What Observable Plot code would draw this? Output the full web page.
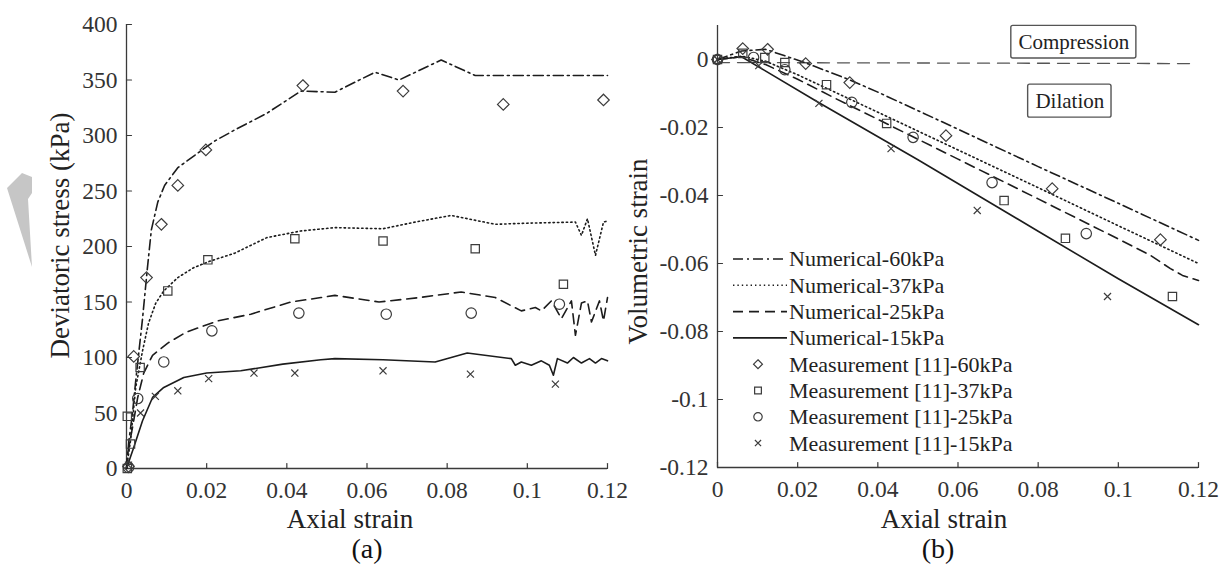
<!DOCTYPE html>
<html><head><meta charset="utf-8">
<script src="https://cdn.jsdelivr.net/npm/d3@7"></script>
<script src="https://cdn.jsdelivr.net/npm/@observablehq/plot@0.6"></script>
<style>
html,body{margin:0;padding:0;background:#fff;}
#wrap{position:relative;width:1227px;height:570px;overflow:hidden;font-family:"Liberation Serif","Times New Roman",serif;}
#pa,#pb,#ov{position:absolute;top:0;}
#pa{left:0} #pb{left:625px} #ov{left:0;pointer-events:none}
svg{overflow:visible}
svg text{font-family:"Liberation Serif","Times New Roman",serif !important;}
</style></head><body><div id="wrap"><div id="pa"></div><div id="pb"></div><svg id="ov" width="1227" height="570"></svg></div>
<script>
// ---------- Panel (a): deviatoric stress vs axial strain ----------
const aXTicks = [0, 0.02, 0.04, 0.06, 0.08, 0.1, 0.12];
const aYTicks = [0, 50, 100, 150, 200, 250, 300, 350, 400];

const a60x = [0,0.0006,0.0015,0.0023,0.004,0.0052,0.0062,0.0078,0.0095,0.0128,0.0185,0.022,0.027,0.035,0.0435,0.052,0.062,0.068,0.0785,0.087,0.12];
const a60y = [0,25,50,79,135,180,215,240,255,271,286,295,305,320,340,339,357,350,368,354,354];
const a37x = [0,0.001,0.0023,0.004,0.0055,0.0073,0.0093,0.0128,0.0168,0.021,0.027,0.035,0.0435,0.052,0.064,0.072,0.081,0.092,0.1,0.112,0.1135,0.115,0.117,0.119,0.12];
const a37y = [0,25,73,106,131,149,160,172,181,187,194,208,214,217,216,222,228,220,221,222,210,225,192,222,223];
const a25x = [0,0.0003,0.0015,0.0028,0.0043,0.0065,0.0103,0.015,0.0228,0.031,0.041,0.0485,0.052,0.063,0.073,0.0835,0.092,0.0985,0.102,0.1035,0.106,0.1085,0.111,0.112,0.1135,0.115,0.116,0.118,0.119,0.12];
const a25y = [0,14,37,64,86,102,113,123,133,139,150,154,156,150,154,159,154,142,145,142,151,135,151,120,149,151,132,151,133,154];
const a15x = [0,0.0018,0.004,0.0065,0.0093,0.0143,0.02,0.0285,0.039,0.0485,0.052,0.064,0.077,0.085,0.096,0.097,0.0985,0.101,0.1035,0.1055,0.1065,0.1075,0.11,0.1115,0.1135,0.1155,0.117,0.1185,0.12];
const a15y = [0,19,43,64,73,82,86,88,94,98,99,98,96,104,99,93,96,93,97,93,84,99,95,100,95,99,95,99,97];

const am60x = [0.0005,0.0018,0.005,0.0087,0.0128,0.0198,0.044,0.069,0.094,0.119];
const am60y = [2,101,172,220,255,287,345,340,328,332];
const am37x = [0.0002,0.001,0.0002,0.0034,0.0103,0.0203,0.042,0.064,0.087,0.109];
const am37y = [0,22,47,91,160,188,207,205,198,166];
const am25x = [0.0005,0.0028,0.0093,0.0213,0.043,0.0648,0.086,0.108];
const am25y = [1,63,96,124,140,139,140,148];
const am15x = [0.0005,0.0035,0.0072,0.0128,0.0205,0.0318,0.042,0.064,0.0858,0.107];
const am15y = [3,50,65,70,81,86,86,88,85,76];

// ---------- Panel (b): volumetric strain vs axial strain ----------
const bXTicks = [0, 0.02, 0.04, 0.06, 0.08, 0.1, 0.12];
const bYTicks = [0, -0.02, -0.04, -0.06, -0.08, -0.1, -0.12];

const b60x = [0,0.006,0.012,0.022,0.033,0.04,0.06,0.08,0.1,0.12];
const b60y = [0,0.0025,0.003,-0.001,-0.006,-0.0096,-0.0205,-0.0315,-0.0423,-0.0532];
const b37x = [0,0.006,0.012,0.02,0.03,0.04,0.06,0.08,0.1,0.12];
const b37y = [0,0.001,-0.0005,-0.0045,-0.01,-0.0155,-0.0266,-0.0377,-0.0489,-0.06];
const b25x = [0,0.006,0.012,0.02,0.03,0.04,0.06,0.08,0.1,0.108,0.113,0.116,0.12];
const b25y = [0,0.0008,-0.0015,-0.0058,-0.0118,-0.0176,-0.0293,-0.041,-0.0528,-0.0576,-0.0615,-0.0635,-0.065];
const b15x = [0,0.006,0.025,0.05,0.08,0.1,0.12];
const b15y = [0,0.0008,-0.0125,-0.0295,-0.0505,-0.0645,-0.078];

const bm60x = [0,0.0063,0.0125,0.022,0.033,0.057,0.0835,0.1105];
const bm60y = [0,0.0032,0.003,-0.0012,-0.0068,-0.0224,-0.038,-0.053];
const bm37x = [0,0.0063,0.0118,0.0168,0.0272,0.0422,0.0715,0.0868,0.1135];
const bm37y = [0,0.0018,0.0006,-0.0009,-0.0074,-0.0188,-0.0415,-0.0526,-0.0697];
const bm25x = [0,0.009,0.0168,0.0335,0.0488,0.0685,0.092];
const bm25y = [0,0.0006,-0.003,-0.0126,-0.0229,-0.0362,-0.0512];
const bm15x = [0,0.0103,0.0253,0.0433,0.0648,0.0973];
const bm15y = [0,-0.0018,-0.0129,-0.0262,-0.0444,-0.0697];

const refX = [0, 0.119];
const refY = [-0.0009, -0.0012];

const seriesLabels = ["Numerical-60kPa","Numerical-37kPa","Numerical-25kPa","Numerical-15kPa",
  "Measurement [11]-60kPa","Measurement [11]-37kPa","Measurement [11]-25kPa","Measurement [11]-15kPa"];
const annoText = ["Compression", "Dilation"];
const annoX = [0.0889, 0.0879];
const annoY = [0.00515, -0.0122];
const boxX1 = [0.0733, 0.0775], boxX2 = [0.1045, 0.0983];
const boxY1 = [0.0099, -0.0074], boxY2 = [0.0003, -0.0171];

// ---------- helpers ----------
const zip = (xs, ys) => xs.map((x, i) => ({x, y: ys[i]}));
const fmt = d => String(d);
const FONT = "Liberation Serif";
const axisColor = "#3a3a3a";
const lineColor = "#1c1c1c";
const markColor = "#3c3c3c";
const dashes = {d60: "10,4,2,4", d37: "1.4,3", d25: "10,6", d15: null};
const tickShape = {draw(ctx, l) { ctx.moveTo(0, 0); ctx.lineTo(0, -l); }};
const symR = {diamond2: 5.2, square2: 5.3, circle: 5.2, times: 3.3};

function lineMark(xs, ys, dash) {
  return Plot.line(zip(xs, ys), {x: "x", y: "y", stroke: lineColor, strokeWidth: 1.6,
    strokeDasharray: dash || undefined});
}
function dotMark(xs, ys, sym) {
  return Plot.dot(zip(xs, ys), {x: "x", y: "y", symbol: sym, r: symR[sym], stroke: markColor,
    strokeWidth: 1.2, fill: "none"});
}
function frameMarks(xTicks, yTicks, x0, y0) {
  return [
    Plot.ruleX([x0], {stroke: axisColor, strokeWidth: 1.3}),
    Plot.ruleY([y0], {stroke: axisColor, strokeWidth: 1.3}),
    Plot.vector(yTicks, {x: () => x0, y: d => d, length: 5, rotate: 90, anchor: "start", shape: tickShape, stroke: axisColor, strokeWidth: 1.2}),
    Plot.vector(xTicks, {x: d => d, y: () => y0, length: 5, rotate: 0, anchor: "start", shape: tickShape, stroke: axisColor, strokeWidth: 1.2}),
    Plot.axisY({ticks: yTicks, tickSize: 0, tickPadding: 9, fontSize: 23.5, tickFormat: fmt, label: null, color: "#333"}),
    Plot.axisX({ticks: xTicks, tickSize: 0, tickPadding: 13, fontSize: 23.5, tickFormat: fmt, label: null, color: "#333"})
  ];
}
const labelOpts = {text: d => d, textAnchor: "middle", lineAnchor: "middle", fill: "#222"};

const pa = Plot.plot({
  width: 625, height: 570,
  marginTop: 24, marginBottom: 102, marginLeft: 126, marginRight: 18,
  x: {domain: [0, 0.12]}, y: {domain: [0, 400]},
  style: {fontFamily: FONT, background: "transparent", overflow: "visible", color: "#222"},
  marks: [
    ...frameMarks(aXTicks, aYTicks, 0, 0),
    lineMark(a60x, a60y, dashes.d60),
    lineMark(a37x, a37y, dashes.d37),
    lineMark(a25x, a25y, dashes.d25),
    lineMark(a15x, a15y, dashes.d15),
    dotMark(am60x, am60y, "diamond2"),
    dotMark(am37x, am37y, "square2"),
    dotMark(am25x, am25y, "circle"),
    dotMark(am15x, am15y, "times"),
    Plot.text(["Deviatoric stress (kPa)"], {...labelOpts, frameAnchor: "left", dx: -66, dy: -11, rotate: -90, fontSize: 27}),
    Plot.text(["Axial strain"], {...labelOpts, frameAnchor: "bottom", dx: -17, dy: 51, fontSize: 27}),
    Plot.text(["(a)"], {...labelOpts, frameAnchor: "bottom", dx: 0, dy: 81, fontSize: 28, fill: "#111"})
  ]
});
document.getElementById("pa").appendChild(pa);

const pb = Plot.plot({
  width: 602, height: 570,
  marginTop: 25, marginBottom: 103, marginLeft: 92, marginRight: 29,
  x: {domain: [0, 0.12]}, y: {domain: [-0.12, 0.01]},
  style: {fontFamily: FONT, background: "transparent", overflow: "visible", color: "#222"},
  marks: [
    ...frameMarks(bXTicks, bYTicks, 0, -0.12),
    Plot.line(zip(refX, refY), {x: "x", y: "y", stroke: "#555", strokeWidth: 1.3, strokeDasharray: "12,8"}),
    Plot.rect([0, 1], {x1: i => boxX1[i], x2: i => boxX2[i], y1: i => boxY1[i], y2: i => boxY2[i], fill: "white", stroke: "#555", strokeWidth: 1.4, rx: 2}),
    Plot.text([0, 1], {x: i => annoX[i], y: i => annoY[i], text: i => annoText[i], fontSize: 21, fill: "#222"}),
    lineMark(b60x, b60y, dashes.d60),
    lineMark(b37x, b37y, dashes.d37),
    lineMark(b25x, b25y, dashes.d25),
    lineMark(b15x, b15y, dashes.d15),
    dotMark(bm60x, bm60y, "diamond2"),
    dotMark(bm37x, bm37y, "square2"),
    dotMark(bm25x, bm25y, "circle"),
    dotMark(bm15x, bm15y, "times"),
    Plot.text(["Volumetric strain"], {...labelOpts, frameAnchor: "left", dx: -79, dy: 5, rotate: -90, fontSize: 27}),
    Plot.text(["Axial strain"], {...labelOpts, frameAnchor: "bottom", dx: -14, dy: 52, fontSize: 27}),
    Plot.text(["(b)"], {...labelOpts, frameAnchor: "bottom", dx: -20, dy: 82, fontSize: 28, fill: "#111"})
  ]
});
document.getElementById("pb").appendChild(pb);

// ---------- overlay: legend for panel (b) and watermark ----------
const ov = d3.select("#ov");
ov.append("polygon").attr("points", "7,188 22,173 32,177 32,193 28,199 32,267").attr("fill", "#c6c6c6");
const lg = ov.append("g").attr("font-family", FONT).attr("font-size", 22).attr("fill", "#222");
const legendKinds = [
  {line: dashes.d60}, {line: dashes.d37}, {line: dashes.d25}, {line: "solid"},
  {sym: d3.symbolDiamond2, r: 4}, {sym: d3.symbolSquare2, r: 4.3}, {sym: d3.symbolCircle, r: 4.2}, {sym: d3.symbolTimes, r: 2.9}
];
seriesLabels.forEach((lab, i) => {
  const y = 259 + i * 26.3;
  const k = legendKinds[i];
  if (k.line) {
    lg.append("line").attr("x1", 733).attr("x2", 787).attr("y1", y).attr("y2", y)
      .attr("stroke", lineColor).attr("stroke-width", 1.6)
      .attr("stroke-dasharray", k.line === "solid" ? null : k.line);
  } else {
    lg.append("path").attr("d", d3.symbol(k.sym, Math.PI * k.r * k.r)())
      .attr("transform", `translate(758,${y})`).attr("fill", "none")
      .attr("stroke", markColor).attr("stroke-width", 1.2);
  }
  lg.append("text").attr("x", 789).attr("y", y).attr("dy", "0.34em").text(lab);
});
</script></body></html>
